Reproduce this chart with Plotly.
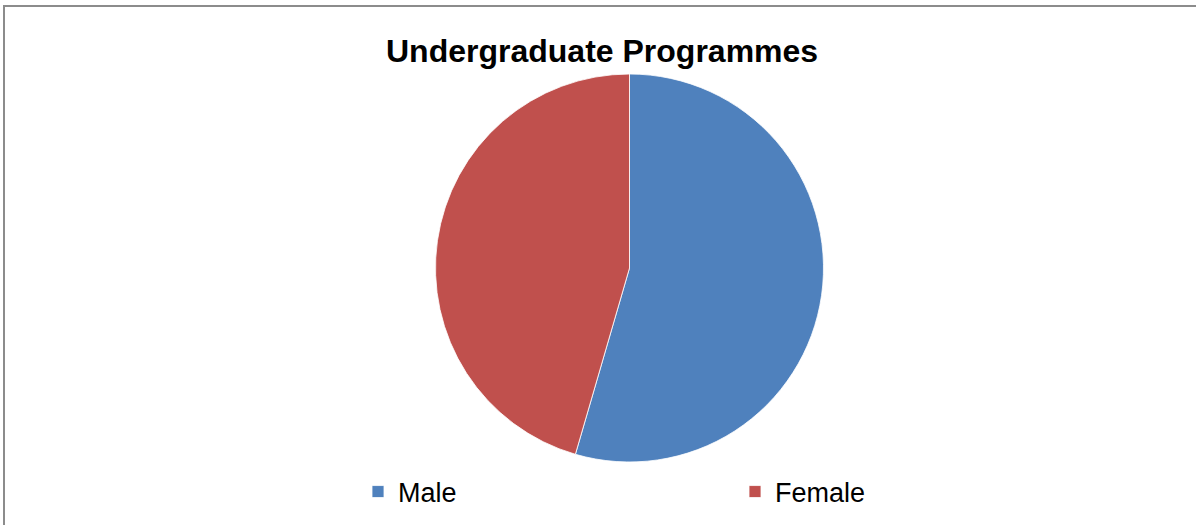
import plotly.graph_objects as go

labels = ["Male", "Female"]
values = [54.5, 45.5]
colors = ["#4F81BD", "#C0504D"]

W, H = 1196, 525

fig = go.Figure(go.Pie(
    labels=labels,
    values=values,
    sort=False,
    direction="clockwise",
    rotation=0,
    textinfo="none",
    hoverinfo="label+percent",
    marker=dict(colors=colors, line=dict(color="#ffffff", width=0.8)),
    domain=dict(x=[435.5 / W, 823.5 / W], y=[(H - 462) / H, (H - 74) / H]),
))

fig.update_layout(
    width=W, height=H,
    margin=dict(l=0, r=0, t=0, b=0),
    paper_bgcolor="white",
    plot_bgcolor="white",
    font=dict(family="Liberation Sans, Arial, sans-serif", color="#000000"),
    showlegend=True,
    legend=dict(
        orientation="h",
        x=358 / W, xanchor="left",
        y=1 - 492 / H, yanchor="middle",
        font=dict(size=27, color="#000000"),
        entrywidth=332, entrywidthmode="pixels",
        bgcolor="rgba(0,0,0,0)",
    ),
    annotations=[dict(
        text="<b>Undergraduate Programmes</b>",
        x=602 / W, y=1 - 51 / H, xref="paper", yref="paper",
        xanchor="center", yanchor="middle", showarrow=False,
        font=dict(size=32, color="#000000"),
    )],
    shapes=[dict(
        type="rect", xref="paper", yref="paper",
        x0=4 / W, x1=1.01, y0=-0.01, y1=1 - 6 / H,
        line=dict(color="#8c8c8c", width=2),
    )],
)

fig.write_html("out.html", config={"displayModeBar": False},
               post_script="document.body.style.margin='0';")
